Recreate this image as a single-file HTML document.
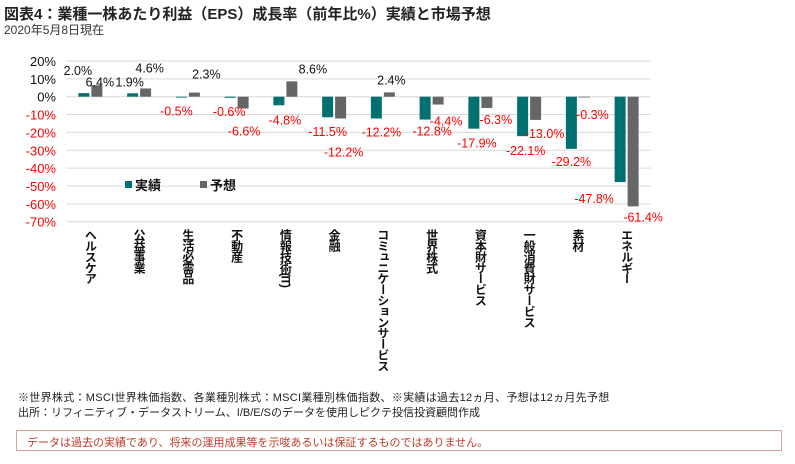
<!DOCTYPE html>
<html><head><meta charset="utf-8">
<style>
body{margin:0;width:795px;height:464px;background:#fff;overflow:hidden;font-family:"Liberation Sans","Noto Sans CJK JP",sans-serif;position:relative}
.t{position:absolute;white-space:nowrap}
.cat{position:absolute;top:229px;writing-mode:vertical-rl;font-size:12px;font-weight:bold;line-height:12px;color:#111;letter-spacing:-1.1px}
</style></head><body>
<div class="t" style="left:4px;top:3px;font-size:15px;font-weight:bold;color:#222">図表4：業種一株あたり利益（EPS）成長率（前年比%）実績と市場予想</div>
<div class="t" style="left:4px;top:21px;font-size:12px;color:#333">2020年5月8日現在</div>
<svg id="chart" width="795" height="464" style="position:absolute;left:0;top:0"></svg>
<div id="cats"></div>
<div class="t" style="left:18px;top:389px;font-size:11px;color:#222;letter-spacing:0.3px">※世界株式：MSCI世界株価指数、各業種別株式：MSCI業種別株価指数、※実績は過去12ヵ月、予想は12ヵ月先予想</div>
<div class="t" style="left:18px;top:404px;font-size:11px;color:#222">出所：リフィニティブ・データストリーム、I/B/E/Sのデータを使用しピクテ投信投資顧問作成</div>
<div style="position:absolute;left:16px;top:430px;width:766px;height:21px;border:1px solid #d9a0a0;box-sizing:border-box"></div>
<div class="t" style="left:27px;top:434px;font-size:11px;color:#c0392b">データは過去の実績であり、将来の運用成果等を示唆あるいは保証するものではありません。</div>
<script>
const categories=["ヘルスケア","公益事業","生活必需品","不動産","情報技術(IT)","金融","コミュニケーションサービス","世界株式","資本財サービス","一般消費財サービス","素材","エネルギー"];
const actual=[2.0,1.9,-0.5,-0.6,-4.8,-11.5,-12.2,-12.8,-17.9,-22.1,-29.2,-47.8];
const forecast=[6.4,4.6,2.3,-6.6,8.6,-12.2,2.4,-4.4,-6.3,-13.0,-0.3,-61.4];
const ticks=[20,10,0,-10,-20,-30,-40,-50,-60,-70];
const actualLabelOffset=[[-6,-23],[-3,-12],[-5,13],[-1,13],[6,14],[0,14],[5,13],[7,11],[3,14],[3,14],[0,12],[-26,16]];
const forecastLabelOffset=[[3,-4],[4,-21],[12,-19],[1,22],[21,-13],[3,33],[2,-13],[8,16],[9,11],[9,13],[8,17],[10,10]];
const svg=document.getElementById('chart');const NS='http://www.w3.org/2000/svg';
const x0=66,x1=651,step=(x1-x0)/categories.length;
function y(v){return 96.7-v*1.786;}
function cx(i){return x0+step*(i+0.5);}
function mk(tag,attrs){const e=document.createElementNS(NS,tag);for(const k in attrs)e.setAttribute(k,attrs[k]);svg.appendChild(e);return e;}
ticks.forEach(t=>{
 const l=mk('line',{x1:x0,x2:x1,y1:y(t),y2:y(t),stroke:'#d9d9d9','stroke-width':1});
 
 
 const tx=mk('text',{x:56,y:y(t)+5,'text-anchor':'end','font-size':13,fill:t<0?'#ff0000':'#111'});
 tx.textContent=t+'%';
 
 
});
const bw=11;
function bar(v,xc,color,name){
 const yt=Math.min(y(v),y(0)),h=Math.abs(y(v)-y(0));
 const r=mk('rect',{x:xc-bw/2,y:yt,width:bw,height:Math.max(h,0.8),fill:color});
 
 
}
function label(v,xc,off,name){
 const tx=mk('text',{x:xc+off[0],y:y(v)+off[1]+5,'text-anchor':'middle','font-size':12.5,fill:v<0?'#ff0000':'#111'});
 tx.textContent=v.toFixed(1)+'%';
 
 
}
categories.forEach((c,i)=>{
 bar(actual[i],cx(i)-6.5,'#007070','bar-actual');
 bar(forecast[i],cx(i)+6.5,'#666666','bar-forecast');
 label(actual[i],cx(i)-6.5,actualLabelOffset[i],'label-actual');
 label(forecast[i],cx(i)+6.5,forecastLabelOffset[i],'label-forecast');
 const d=document.createElement('div');d.className='cat';
 d.style.left=(cx(i)-6)+'px';d.textContent=c;
 
 
 document.getElementById('cats').appendChild(d);
});
const lg=[[125,'#007070','実績'],[200,'#666666','予想']];
lg.forEach(l=>{
 const r=mk('rect',{x:l[0],y:181,width:7,height:7,fill:l[1]});
 
 
 const t=mk('text',{x:l[0]+10,y:190,'font-size':13,'font-weight':'bold',fill:'#111'});t.textContent=l[2];
 
 
});
</script>
</body></html>
